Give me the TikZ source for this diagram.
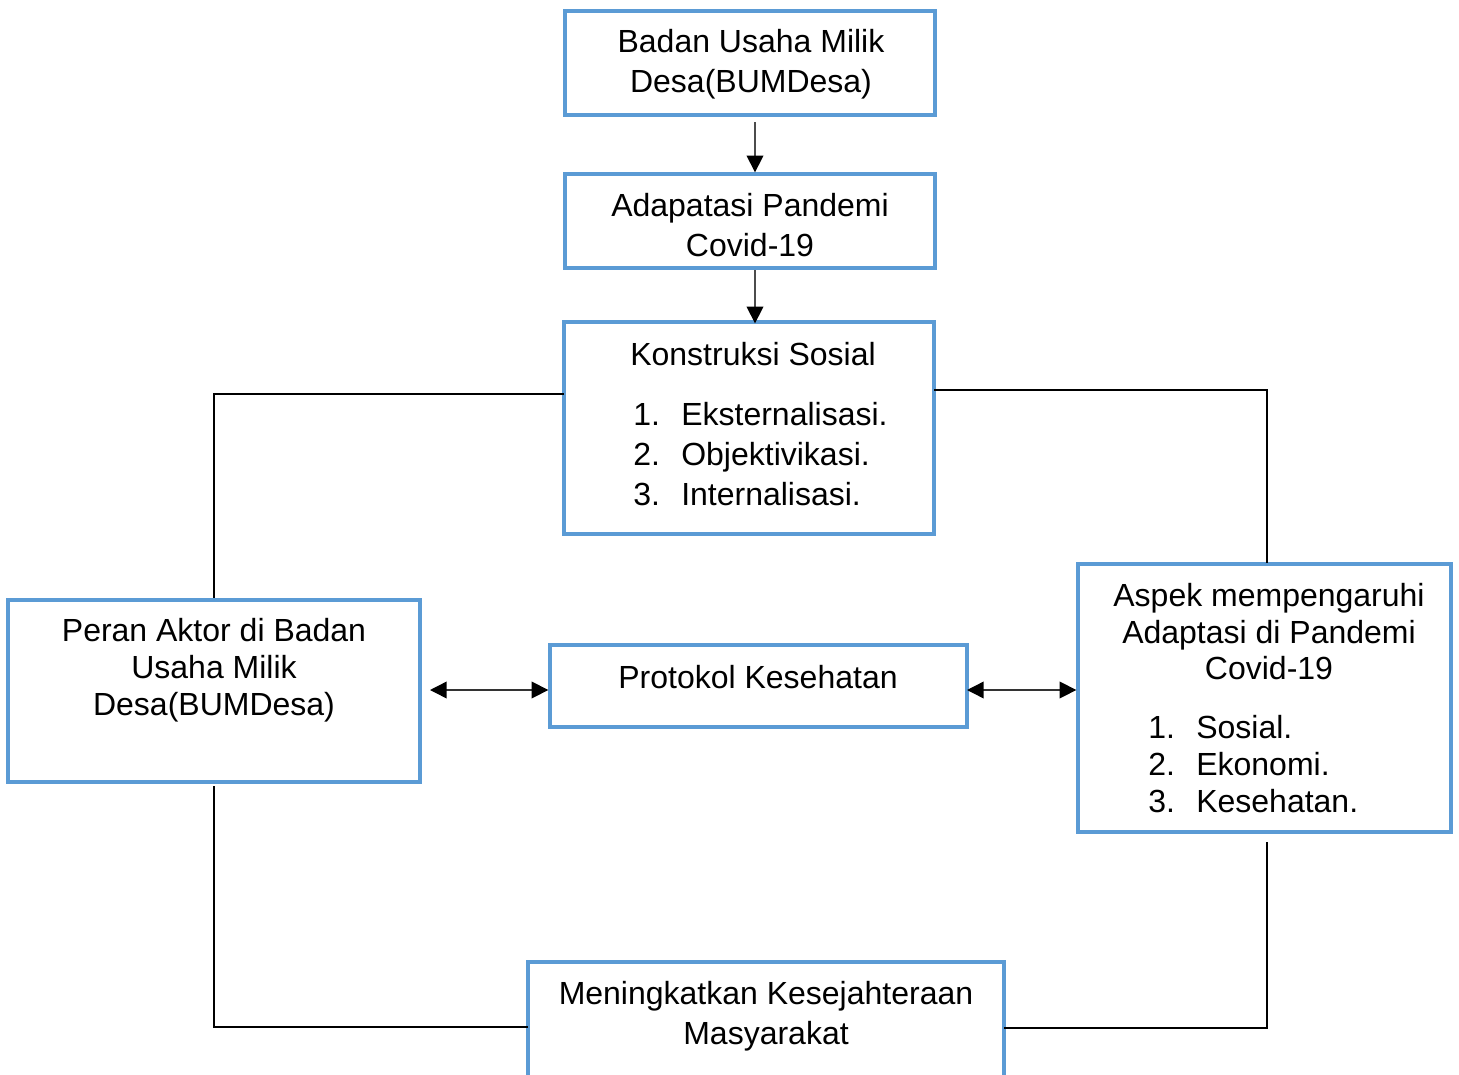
\documentclass[tikz,border=0pt]{standalone}
\usepackage{fontspec}
\setmainfont{Liberation Sans}
\usetikzlibrary{arrows.meta}
\definecolor{boxblue}{RGB}{91,155,213}
\def\pxu{0.75pt}
\tikzset{
  kotak/.style={draw=boxblue, line width=2.5pt, inner sep=0pt},
  teks/.style={font=\fontsize{24}{30}\selectfont, align=center, inner sep=0pt},
  daftar/.style={font=\fontsize{24}{30}\selectfont, align=left, inner sep=0pt, anchor=west},
  garis/.style={line width=1.1pt},
  panah/.style={line width=1.1pt, draw=black!70, -{Triangle[length=12.5pt,width=12.5pt,fill=black,color=black]}},
  duapanah/.style={line width=1.1pt, draw=black!80, {Triangle[length=12.5pt,width=12.5pt,fill=black,color=black]}-{Triangle[length=12.5pt,width=12.5pt,fill=black,color=black]}},
}
\newcommand{\nomor}[1]{\makebox[36pt][l]{#1}}
\begin{document}
\begin{tikzpicture}[x=\pxu,y=-\pxu]
  \useasboundingbox (0,0) rectangle (1459,1074);

  % kotak-kotak
  \node[kotak, minimum width={370*\pxu}, minimum height={104*\pxu}] (bumdes) at (750,63) {};
  \node[kotak, minimum width={370*\pxu}, minimum height={94*\pxu}] (adaptasi) at (750,221) {};
  \node[kotak, minimum width={370*\pxu}, minimum height={212*\pxu}] (konstruksi) at (749,428) {};
  \node[kotak, minimum width={412*\pxu}, minimum height={182*\pxu}] (peran) at (214,691) {};
  \node[kotak, minimum width={417*\pxu}, minimum height={82*\pxu}] (protokol) at (758.5,686) {};
  \node[kotak, minimum width={373*\pxu}, minimum height={268*\pxu}] (aspek) at (1264.5,698) {};
  \node[kotak, minimum width={476*\pxu}, minimum height={136*\pxu}] (sejahtera) at (766,1030) {};

  % teks
  \node[teks] (bumdesT) at (751,64) {Badan Usaha Milik\\Desa(BUMDesa)};
  \node[teks] (adaptasiT) at (750,225) {Adapatasi Pandemi\\Covid-19};
  \node[teks] (konstruksiT) at (753,354) {Konstruksi Sosial};
  \node[daftar] (konstruksiL) at (633,454) {\nomor{1.}Eksternalisasi.\\\nomor{2.}Objektivikasi.\\\nomor{3.}Internalisasi.};
  \node[teks, font=\fontsize{24}{27.75}\selectfont] (peranT) at (214,670) {Peran Aktor di Badan\\Usaha Milik\\Desa(BUMDesa)};
  \node[teks] (protokolT) at (758,677) {Protokol Kesehatan};
  \node[teks, font=\fontsize{24}{27.4}\selectfont] (aspekT) at (1269,632) {Aspek mempengaruhi\\Adaptasi di Pandemi\\Covid-19};
  \node[daftar, font=\fontsize{24}{27.75}\selectfont] (aspekL) at (1148,764) {\nomor{1.}Sosial.\\\nomor{2.}Ekonomi.\\\nomor{3.}Kesehatan.};
  \node[teks] (sejahteraT) at (766,1016) {Meningkatkan Kesejahteraan\\Masyarakat};

  % panah
  \coordinate (p1) at (755,122);
  \draw[panah] (p1) -- (adaptasi.north -| p1);
  \coordinate (p2) at (755,270);
  \draw[panah] (p2) -- ([yshift=-3*\pxu]konstruksi.north -| p2);
  \coordinate (p3) at (430,690);
  \draw[duapanah] (p3) -- (protokol.west |- p3);
  \coordinate (p4) at (967,690);
  \draw[duapanah] (p4) -- (aspek.west |- p4);

  % garis penghubung
  \coordinate (k1) at (564,394);
  \draw[garis] (k1) -| (peran.north);
  \coordinate (k2) at (934,390);
  \coordinate (k2b) at (1267,563);
  \draw[garis] (k2) -| (k2b);
  \coordinate (k3) at (214,786);
  \coordinate (k4) at (528,1027);
  \draw[garis] (k3) |- (k4);
  \coordinate (k5) at (1267,842);
  \coordinate (k6) at (1004,1028);
  \draw[garis] (k5) |- (k6);
\end{tikzpicture}
\end{document}
